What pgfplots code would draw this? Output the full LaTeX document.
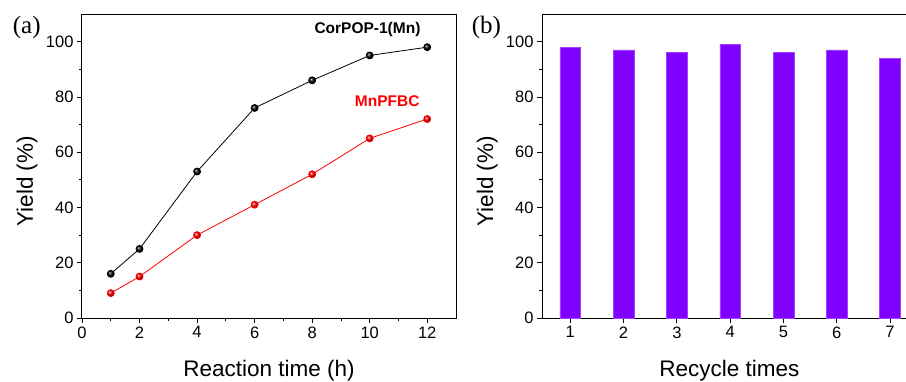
\documentclass[border=0pt]{standalone}
\usepackage{fontspec}
\setmainfont{Liberation Sans}
\newfontfamily\timesfont{Liberation Serif}
\usepackage{pgfplots}
\pgfplotsset{compat=1.18}
\definecolor{barpurple}{HTML}{8000FF}
\definecolor{baredge}{HTML}{A040FF}
\begin{document}
\begin{tikzpicture}[x=1pt,y=1pt]
\useasboundingbox (0,0) rectangle (906,-381);
\pgfplotsset{
 common/.style={
  scale only axis, height=304pt,
  ymin=0, ymax=110, ytick={0,20,...,100}, minor y tick num=1,
  tick align=outside, tick pos=left,
  major tick length=5pt, minor tick length=3pt,
  every tick/.style={black, line width=0.8pt},
  axis line style={line width=1pt},
  tick label style={font=\fontsize{16.5}{19}\selectfont},
  /pgf/number format/assume math mode=true,
  label style={font=\fontsize{22.5}{27}\selectfont},
  xlabel style={at={([yshift=-58pt]axis description cs:0.5,0)}, anchor=base},
  ylabel style={at={([xshift=-49pt]axis description cs:0,0.45)}, rotate=0, anchor=base},
 }
}
\node[anchor=base west, font=\timesfont\fontsize{25}{28}\selectfont, inner sep=0pt] at (12.7,-33.6) {(a)};
\node[anchor=base west, font=\timesfont\fontsize{25}{28}\selectfont, inner sep=0pt] at (471.7,-33.6) {(b)};
\begin{axis}[common, at={(82pt,-318pt)}, anchor=south west, width=374pt,
  xmin=0, xmax=13, xtick={0,2,...,12}, minor x tick num=1,
  xlabel={Reaction time (h)}, ylabel={Yield (\%)}, clip=false]
\addplot[black, line width=0.8pt, mark=ball, mark size=3.5pt, mark options={ball color=black}]
  coordinates {(1,16)(2,25)(4,53)(6,76)(8,86)(10,95)(12,98)};
\addplot[red, line width=0.8pt, mark=ball, mark size=3.5pt, mark options={ball color=red}]
  coordinates {(1,9)(2,15)(4,30)(6,41)(8,52)(10,65)(12,72)};
\node[anchor=base east, inner sep=0pt, font=\bfseries\fontsize{15.5}{18}\selectfont] at (axis cs:11.77,102.8) {CorPOP-1(Mn)};
\node[anchor=base east, inner sep=0pt, text=red, font=\bfseries\fontsize{15.5}{18}\selectfont] at (axis cs:11.74,76.4) {MnPFBC};
\end{axis}
\begin{axis}[common, at={(542pt,-318pt)}, anchor=south west, width=374.7pt,
  xmin=0.47, xmax=7.5, xtick={1,...,7},
  xlabel={Recycle times}, ylabel={Yield (\%)},
  ybar, bar width=20.7pt]
\addplot[fill=barpurple, draw=baredge, line width=0.5pt]
  coordinates {(1,98)(2,97)(3,96)(4,99)(5,96)(6,97)(7,94)};
\end{axis}
\end{tikzpicture}
\end{document}
